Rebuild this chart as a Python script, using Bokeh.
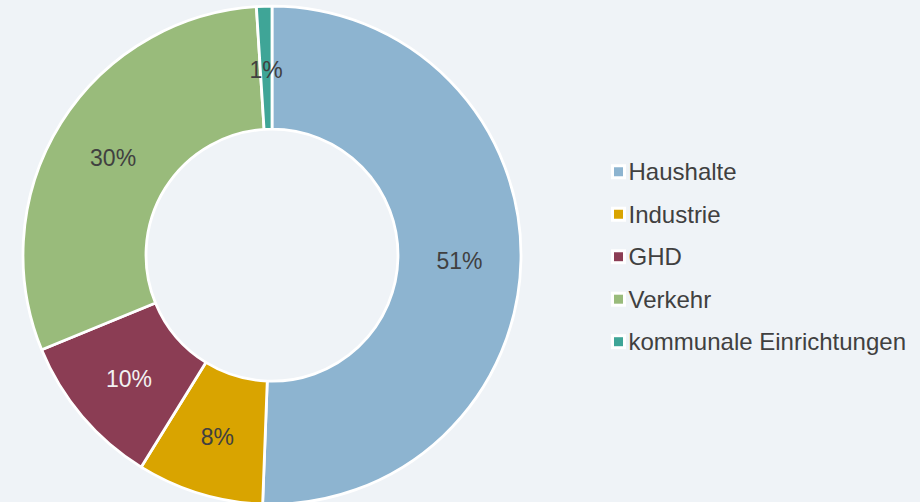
import numpy as np
from bokeh.plotting import figure
from bokeh.models import Range1d, ColumnDataSource
from bokeh.core.properties import value
from bokeh.embed import file_html
from bokeh.resources import INLINE

# ---- data ----
categories = ["Haushalte", "Industrie", "GHD", "Verkehr", "kommunale Einrichtungen"]
shares = [50.6, 8.2, 10.0, 30.2, 1.0]
colors = ["#8db4d0", "#d9a400", "#8b3d54", "#99bb7b", "#3fa597"]
label_colors = ["#404040", "#404040", "#f2f2f2", "#404040", "#404040"]

BG = "#eff3f7"
FONT = "Liberation Sans"

# ---- geometry (screen-like coordinates, y up = 502 - y_screen) ----
W, H = 920, 502
cx, cy = 271.5, H - 254.7
r_in, r_out = 126.0, 249.0

vals = np.array(shares, dtype=float)
frac = vals / vals.sum()
cum_end = np.cumsum(frac)
cum_start = cum_end - frac
start = np.pi / 2 - cum_start * 2 * np.pi
end = np.pi / 2 - cum_end * 2 * np.pi
mid = (start + end) / 2
r_mid = (r_in + r_out) / 2

labels = [f"{round(v)}%" for v in vals]

wedge_src = ColumnDataSource(dict(start=start, end=end, color=colors))
label_src = ColumnDataSource(dict(
    x=cx + r_mid * np.cos(mid),
    y=cy + r_mid * np.sin(mid) - 2,
    text=labels,
    color=label_colors,
))

p = figure(width=W, height=H, output_backend="svg", toolbar_location=None,
           x_range=Range1d(0, W), y_range=Range1d(0, H),
           x_axis_type=None, y_axis_type=None, min_border=0)
p.background_fill_color = BG
p.border_fill_color = BG
p.outline_line_color = None
p.grid.visible = False

p.annular_wedge(x=cx, y=cy, inner_radius=r_in, outer_radius=r_out,
                start_angle="start", end_angle="end", direction="clock",
                fill_color="color", line_color="white", line_width=2.8,
                source=wedge_src)

p.text(x="x", y="y", text="text", text_color="color", source=label_src,
       text_font=value(FONT), text_font_size="23px",
       text_align="center", text_baseline="middle")

# legend
leg_y = H - (171.2 + 42.5 * np.arange(len(categories)))
leg_src = ColumnDataSource(dict(y=leg_y, color=colors, text=categories))
p.rect(x=618, y="y", width=15, height=15, fill_color="white", line_color=None, source=leg_src)
p.rect(x=618, y="y", width=9, height=9, fill_color="color", line_color=None, source=leg_src)
p.text(x=628, y="y", text="text", source=leg_src, text_color="#404040",
       text_font=value(FONT), text_font_size="24px",
       text_align="left", text_baseline="middle")

html = file_html(p, INLINE)
html = html.replace("</head>", "<style>body{background:%s;}</style></head>" % BG, 1)
open("out.html", "w").write(html)
